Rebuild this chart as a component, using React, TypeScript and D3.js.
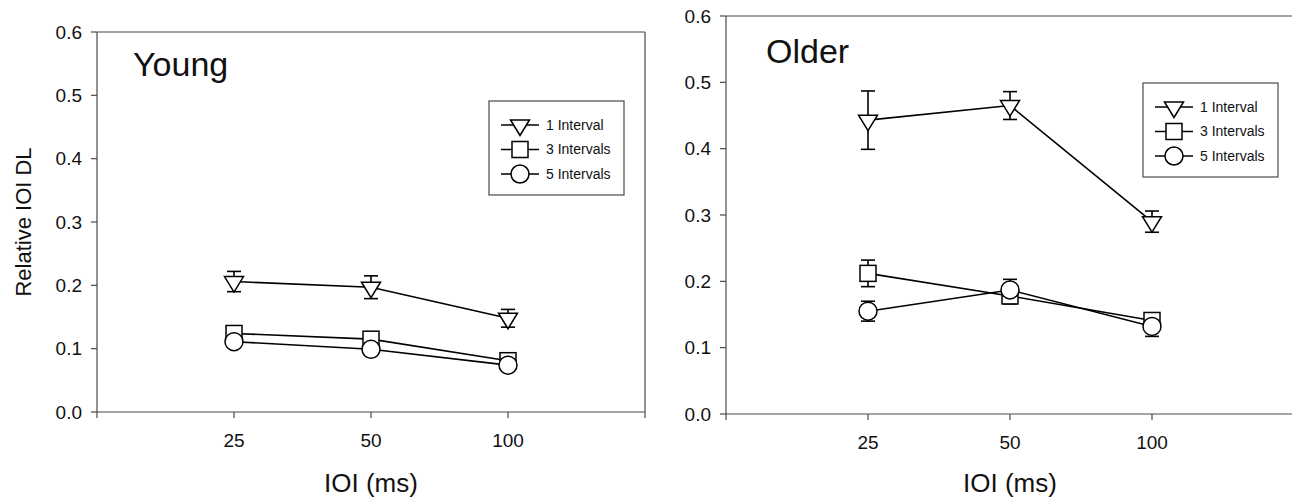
import React from "react";
import * as d3 from "d3";

const ioi = [25, 50, 100];
const xTickValues = [12.5, 25, 50, 100, 200];
const xTickLabels = ["", "25", "50", "100", ""];
const yTickValues = [0, 0.1, 0.2, 0.3, 0.4, 0.5, 0.6];

const seriesNames = ["1 Interval", "3 Intervals", "5 Intervals"];
const seriesShapes = ["triangle", "square", "circle"];

const youngOne = [0.206, 0.197, 0.148];
const youngOneErr = [0.016, 0.018, 0.014];
const youngThree = [0.124, 0.115, 0.081];
const youngThreeErr = [0.005, 0.005, 0.004];
const youngFive = [0.111, 0.099, 0.074];
const youngFiveErr = [0.005, 0.005, 0.004];

const olderOne = [0.443, 0.465, 0.29];
const olderOneErr = [0.044, 0.021, 0.016];
const olderThree = [0.212, 0.178, 0.141];
const olderThreeErr = [0.02, 0.012, 0.008];
const olderFive = [0.155, 0.187, 0.132];
const olderFiveErr = [0.015, 0.016, 0.015];

const FONT = "Liberation Sans, Arial, sans-serif";
const AXIS = "#4a4a4a";

type Panel = {
  title: string;
  x0: number;
  x1: number;
  yTop: number;
  yBottom: number;
  titleX: number;
  titleY: number;
  legendX: number;
  legendY: number;
  yLabel: boolean;
  values: number[][];
  errs: number[][];
};

const panels: Panel[] = [
  {
    title: "Young",
    x0: 97,
    x1: 645,
    yTop: 32,
    yBottom: 412,
    titleX: 133,
    titleY: 76,
    legendX: 489,
    legendY: 101,
    yLabel: true,
    values: [youngOne, youngThree, youngFive],
    errs: [youngOneErr, youngThreeErr, youngFiveErr],
  },
  {
    title: "Older",
    x0: 726,
    x1: 1294,
    yTop: 16,
    yBottom: 414,
    titleX: 766,
    titleY: 63,
    legendX: 1143,
    legendY: 83,
    yLabel: false,
    values: [olderOne, olderThree, olderFive],
    errs: [olderOneErr, olderThreeErr, olderFiveErr],
  },
];

function Marker({ shape, cx, cy }: { shape: string; cx: number; cy: number }) {
  const common = { fill: "white", stroke: "black", strokeWidth: 1.5 };
  if (shape === "triangle") {
    const w = 9.5;
    const pts = `${cx - w},${cy - 5} ${cx + w},${cy - 5} ${cx},${cy + 10.5}`;
    return <polygon points={pts} {...common} />;
  }
  if (shape === "square") {
    return <rect x={cx - 8} y={cy - 8} width={16} height={16} {...common} />;
  }
  return <circle cx={cx} cy={cy} r={9} {...common} />;
}

function PanelView({ p }: { p: Panel }) {
  const x = d3.scaleLog().base(2).domain([12.5, 200]).range([p.x0, p.x1]);
  const y = d3.scaleLinear().domain([0, 0.6]).range([p.yBottom, p.yTop]);
  const fmt = d3.format(".1f");
  const line = d3
    .line<number>()
    .x((_, i) => x(ioi[i]))
    .y((d) => y(d));

  return (
    <g>
      {/* frame */}
      <line x1={p.x0} x2={p.x1} y1={p.yTop} y2={p.yTop} stroke={AXIS} strokeWidth={1.2} />
      <line x1={p.x1} x2={p.x1} y1={p.yTop} y2={p.yBottom} stroke={AXIS} strokeWidth={1.2} />
      <line x1={p.x0} x2={p.x0} y1={p.yTop} y2={p.yBottom} stroke={AXIS} strokeWidth={1.2} />
      <line x1={p.x0} x2={p.x1} y1={p.yBottom} y2={p.yBottom} stroke={AXIS} strokeWidth={1.2} />
      {/* y ticks */}
      {yTickValues.map((t) => (
        <g key={"y" + t}>
          <line x1={p.x0 - 6} x2={p.x0} y1={y(t)} y2={y(t)} stroke={AXIS} strokeWidth={1.2} />
          <text
            x={p.x0 - 15}
            y={y(t)}
            dy="0.35em"
            textAnchor="end"
            fontFamily={FONT}
            fontSize={19}
            fill="#111"
          >
            {fmt(t)}
          </text>
        </g>
      ))}
      {/* x ticks */}
      {xTickValues.map((t, i) => (
        <g key={"x" + t}>
          <line x1={x(t)} x2={x(t)} y1={p.yBottom} y2={p.yBottom + 6} stroke={AXIS} strokeWidth={1.2} />
          <text
            x={x(t)}
            y={p.yBottom + 35}
            textAnchor="middle"
            fontFamily={FONT}
            fontSize={19}
            fill="#111"
          >
            {xTickLabels[i]}
          </text>
        </g>
      ))}
      <text
        x={(p.x0 + p.x1) / 2}
        y={492}
        textAnchor="middle"
        fontFamily={FONT}
        fontSize={26}
        fill="#111"
      >
        IOI (ms)
      </text>
      {p.yLabel && (
        <text
          transform={`translate(31,${(p.yTop + p.yBottom) / 2}) rotate(-90)`}
          textAnchor="middle"
          fontFamily={FONT}
          fontSize={22}
          fill="#111"
        >
          Relative IOI DL
        </text>
      )}
      <text x={p.titleX} y={p.titleY} fontFamily={FONT} fontSize={34} fill="#111">
        {p.title}
      </text>
      {/* data lines */}
      {p.values.map((vals, s) => (
        <path key={"l" + s} d={line(vals) || ""} fill="none" stroke="black" strokeWidth={1.6} />
      ))}
      {/* error bars */}
      {p.values.map((vals, s) =>
        vals.map((v, i) => {
          const cx = x(ioi[i]);
          const e = p.errs[s][i];
          return (
            <g key={"e" + s + "-" + i} stroke="black" strokeWidth={1.6}>
              <line x1={cx} x2={cx} y1={y(v - e)} y2={y(v + e)} />
              <line x1={cx - 7} x2={cx + 7} y1={y(v + e)} y2={y(v + e)} />
              <line x1={cx - 7} x2={cx + 7} y1={y(v - e)} y2={y(v - e)} />
            </g>
          );
        })
      )}
      {/* markers */}
      {p.values.map((vals, s) =>
        vals.map((v, i) => (
          <Marker key={"m" + s + "-" + i} shape={seriesShapes[s]} cx={x(ioi[i])} cy={y(v)} />
        ))
      )}
      {/* legend */}
      <g>
        <rect
          x={p.legendX}
          y={p.legendY}
          width={135}
          height={94}
          fill="white"
          stroke={AXIS}
          strokeWidth={1.2}
        />
        {seriesNames.map((name, s) => {
          const ry = p.legendY + 24 + s * 24.5;
          const sx = p.legendX + 31;
          return (
            <g key={"lg" + s}>
              <line x1={sx - 19} x2={sx + 19} y1={ry} y2={ry} stroke="black" strokeWidth={1.6} />
              <Marker shape={seriesShapes[s]} cx={sx} cy={ry} />
              <text
                x={p.legendX + 57}
                y={ry}
                dy="0.35em"
                fontFamily={FONT}
                fontSize={14}
                fill="#111"
              >
                {name}
              </text>
            </g>
          );
        })}
      </g>
    </g>
  );
}

export default function App() {
  return (
    <svg
      width={1292}
      height={500}
      style={{ position: "absolute", left: 0, top: 0, background: "white" }}
    >
      <rect x={0} y={0} width={1292} height={500} fill="white" />
      {panels.map((p) => (
        <PanelView key={p.title} p={p} />
      ))}
    </svg>
  );
}
